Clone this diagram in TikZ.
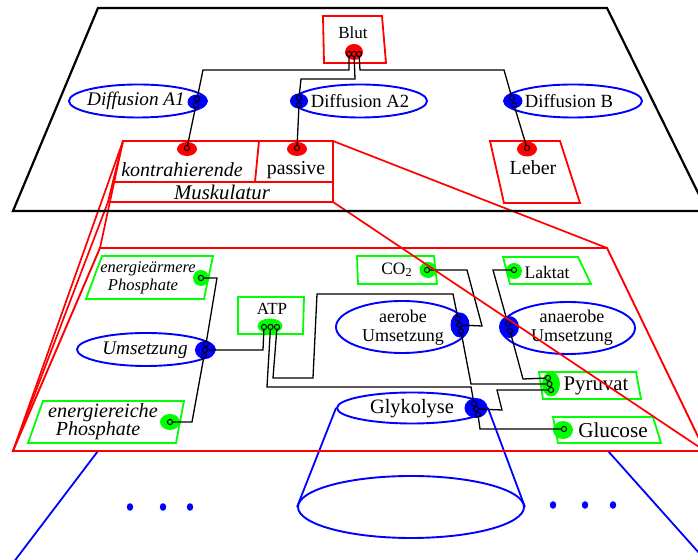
\documentclass[tikz,border=0pt]{standalone}
\usepackage{fontspec}
\setmainfont{Liberation Serif}
\usetikzlibrary{shapes.geometric}
\begin{document}
\begin{tikzpicture}[x=0.5pt,y=-0.5pt,
 rbox/.style={draw=red,line width=0.9pt},
 gbox/.style={draw=green,line width=0.9pt},
 bell/.style={ellipse,draw=blue,line width=0.95pt,inner sep=0pt},
 bline/.style={draw=blue,line width=0.9pt},
 blob/.style={ellipse,fill=#1,draw=none,inner sep=0pt},
 port/.style={circle,draw=black,fill=#1,line width=0.5pt,inner sep=0pt,minimum size=2.6pt},
 wire/.style={draw=black,line width=0.65pt},
 txt/.style={inner sep=0pt,align=center,font=\fontsize{#1}{9.3}\selectfont},
 itxt/.style={inner sep=0pt,align=center,font=\fontsize{#1}{9.3}\selectfont\itshape}
]
\useasboundingbox (0,0) rectangle (698,560);
\clip (0,0) rectangle (698,560);

% ---------- corners ----------
\coordinate (uTL) at (98,8);   \coordinate (uTR) at (607,8);
\coordinate (uBR) at (707,211); \coordinate (uBL) at (13,211);
\coordinate (lTL) at (100,248); \coordinate (lTR) at (607,248);
\coordinate (lBR) at (705,451); \coordinate (lBL) at (13,451);
\coordinate (mTL) at (123,141); \coordinate (mTR) at (333,141);
\coordinate (mBR) at (333,202); \coordinate (mBL) at (108,202);

% ================= upper plane =================
% Blut
\draw[rbox] (323,16) -- (382,16) -- (386,63) -- (324,63) -- cycle;
\node[txt=8.5] (blut) at (353,33) {Blut};
\node[blob=red,minimum width=9pt,minimum height=8pt] (bluB) at (354,52) {};
\node[port=red] (b1) at (349,54) {};
\node[port=red] (b2) at (354,54) {};
\node[port=red] (b3) at (359,54) {};

% Diffusion ellipses
\node[bell,minimum width=69pt,minimum height=16.5pt] (a1) at (138,101) {};
\node[itxt=9.6] (a1t) at (136,101) {Diffusion A1};
\node[blob=blue,minimum width=9.5pt,minimum height=7.5pt] (a1B) at (197,102) {};
\node[port=blue] (a1p1) at (197,99) {};
\node[port=blue] (a1p2) at (196,105) {};

\node[bell,minimum width=67pt,minimum height=16.5pt] (a2) at (360,101) {};
\node[txt=9.3] (a2t) at (360,101) {Diffusion A2};
\node[blob=blue,minimum width=9pt,minimum height=7.5pt] (a2B) at (299,101) {};
\node[port=blue] (a2p1) at (299,98) {};
\node[port=blue] (a2p2) at (299,105) {};

\node[bell,minimum width=69pt,minimum height=16.5pt] (db) at (573,101) {};
\node[txt=9.3] (dbt) at (569,101) {Diffusion B};
\node[blob=blue,minimum width=9.5pt,minimum height=7.5pt] (bB) at (513,101) {};
\node[port=blue] (bp1) at (512,98) {};
\node[port=blue] (bp2) at (514,105) {};

% Muskulatur
\draw[rbox] (mTL) -- (mTR) -- (mBR) -- (mBL) -- cycle;
\draw[rbox] (113,182) -- (333,182);
\draw[rbox] (259,141) -- (255,182);
\node[itxt=10] (kon) at (182,170) {kontrahierende};
\node[txt=9.9] (pas) at (296,170) {passive};
\node[itxt=10.4] (mus) at (222,192) {Muskulatur};
\node[blob=red,minimum width=10pt,minimum height=7pt] (kB) at (187,149) {};
\node[port=red] (kp) at (187,148) {};
\node[blob=red,minimum width=10pt,minimum height=7pt] (pB) at (297,149) {};
\node[port=red] (pp) at (297,148) {};

% Leber
\draw[rbox] (490,141) -- (560,141) -- (580,203) -- (504,203) -- cycle;
\node[txt=10] (leb) at (533,168) {Leber};
\node[blob=red,minimum width=10pt,minimum height=7.5pt] (lB) at (527,149) {};
\node[port=red] (lp) at (527,148) {};

% upper wires
\draw[wire] (b1) -- (349,70) -- (203,70) -- (a1p1);
\draw[wire] (b2) -- (355,79) -- (301,79) -- (a2p1);
\draw[wire] (b3) -- (360,70) -- (504,70) -- (bp1);
\draw[wire] (a1p2) -- (kp);
\draw[wire] (a2p2) -- (pp);
\draw[wire] (bp2) -- (lp);

% ================= lower plane =================
% energiearmere Phosphate
\draw[gbox] (102,256) -- (213,256) -- (204,299) -- (86,299) -- cycle;
\node[itxt=8.2] (eat1) at (148,269) {energieärmere};
\node[itxt=8.3] (eat2) at (143,287) {Phosphate};
\node[blob=green,minimum width=8pt,minimum height=8pt] (eaB) at (201,278) {};
\node[port=green] (eap) at (201,278) {};

% Umsetzung
\node[bell,minimum width=69pt,minimum height=16.5pt] (ums) at (146,349.5) {};
\node[itxt=9.6] (umst) at (145,350) {Umsetzung};
\node[blob=blue,minimum width=10pt,minimum height=9pt] (uB) at (205,350) {};
\node[port=blue] (up1) at (206,344) {};
\node[port=blue] (up2) at (205,350) {};
\node[port=blue] (up3) at (204,356) {};

% energiereiche Phosphate
\draw[gbox] (43,401) -- (184,401) -- (176,443) -- (28,443) -- cycle;
\node[itxt=10.1] (ert1) at (103,413) {energiereiche};
\node[itxt=10] (ert2) at (98,431) {Phosphate};
\node[blob=green,minimum width=10pt,minimum height=8pt] (erB) at (170,422) {};
\node[port=green] (erp) at (170,422) {};

% ATP
\draw[gbox] (238,297) -- (304,297) -- (303,334) -- (238,334) -- cycle;
\node[txt=8.5] (atpt) at (272,309) {ATP};
\node[blob=green,minimum width=12.5pt,minimum height=7.5pt] (atpB) at (270,326) {};
\node[port=green] (atp1) at (264,327) {};
\node[port=green] (atp2) at (270.5,327) {};
\node[port=green] (atp3) at (277,327) {};

% CO2
\draw[gbox] (357,256) -- (434,256) -- (437,284) -- (358,284) -- cycle;
\node[txt=8.7] (co2t) at (397,270) {CO\textsubscript{2}};
\node[blob=green,minimum width=8.5pt,minimum height=8pt] (co2B) at (428,270) {};
\node[port=green] (co2p) at (427,270) {};

% aerobe Umsetzung
\node[bell,minimum width=66pt,minimum height=26pt] (aer) at (402,327) {};
\node[txt=9] (aert) at (403,328) {aerobe\\Umsetzung};
\node[blob=blue,minimum width=9.5pt,minimum height=12.5pt] (aeB) at (460,325) {};
\node[port=blue] (ap1) at (458,318.5) {};
\node[port=blue] (ap2) at (459.5,325) {};
\node[port=blue] (ap3) at (461,331.5) {};

% anaerobe Umsetzung
\node[bell,minimum width=67pt,minimum height=26pt] (ana) at (568,328) {};
\node[txt=9] (anat) at (572,328) {anaerobe\\Umsetzung};
\node[blob=blue,minimum width=10pt,minimum height=11pt] (anB) at (509,327) {};
\node[port=blue] (anp1) at (508,324) {};
\node[port=blue] (anp2) at (510,331) {};

% Laktat
\draw[gbox] (503,257) -- (578,257) -- (591,284) -- (510,284) -- cycle;
\node[txt=8.8] (lakt) at (547,272) {Laktat};
\node[blob=green,minimum width=8pt,minimum height=8pt] (lakB) at (514,271) {};
\node[port=green] (lakp) at (514,270) {};

% Pyruvat
\draw[gbox] (539,372) -- (636,372) -- (641,399) -- (543,399) -- cycle;
\node[txt=10.4] (pyt) at (596,386) {Pyruvat};
\node[blob=green,minimum width=9pt,minimum height=12.5pt] (pyB) at (551,384) {};
\node[port=green] (pyp1) at (548,378) {};
\node[port=green] (pyp2) at (549.5,384) {};
\node[port=green] (pyp3) at (551,390) {};

% Glucose
\draw[gbox] (553,417) -- (653,417) -- (661,443) -- (558,443) -- cycle;
\node[txt=10.6] (glut) at (613,430) {Glucose};
\node[blob=green,minimum width=10pt,minimum height=9pt] (gluB) at (563,430) {};
\node[port=green] (glup) at (564,429) {};

% Glykolyse
\node[bell,minimum width=75pt,minimum height=15.5pt] (glyk) at (412,408) {};
\node[txt=10.2] (glykt) at (412,409) {Glykolyse};
\node[blob=blue,minimum width=11.5pt,minimum height=10pt] (glB) at (476,408) {};
\node[port=blue] (gp1) at (474,403.5) {};
\node[port=blue] (gp2) at (476,409) {};
\node[port=blue] (gp3) at (478,414.5) {};

% lower wires
\draw[wire] (eap) -- (217,278) -- (up1);
\draw[wire] (up3) -- (192,422) -- (erp);
\draw[wire] (up2) -- (263,350) -- (atp1);
\draw[wire] (atp2) -- (267,387) -- (471,387) -- (gp1);
\draw[wire] (atp3) -- (273,378) -- (313,378) -- (317,294) -- (453,294) -- (ap1);
\draw[wire] (co2p) -- (467,270) -- (482,326) -- (ap2);
\draw[wire] (ap3) -- (471,384) -- (pyp2);
\draw[wire] (lakp) -- (493,270) -- (anp1);
\draw[wire] (anp2) -- (523,379) -- (pyp1);
\draw[wire] (gp2) -- (502,410) -- (497,390) -- (pyp3);
\draw[wire] (gp3) -- (480,429) -- (glup);

% ================= cylinder and lower continuation =================
\node[bell,minimum width=113pt,minimum height=31pt] (cyl) at (411,507) {};
\draw[bline] (glyk.west) -- (cyl.west);
\draw[bline] (glyk.east) -- (cyl.east);
\draw[bline] (98,451) -- (13,563);
\draw[bline] (608,451) -- (708,563);
\foreach \x in {130,163,190} \fill[blue] (\x,507) ellipse [x radius=1.6pt, y radius=1.9pt];
\foreach \x in {553,585,613} \fill[blue] (\x,505) ellipse [x radius=1.6pt, y radius=1.9pt];

% lower plane border
\draw[red,line width=0.95pt] (lTL) -- (lTR) -- (lBR) -- (lBL) -- cycle;

% zoom lines
\draw[red,line width=0.85pt] (mTL) -- (lTL);
\draw[red,line width=0.85pt] (mTL) -- (lBL);
\draw[red,line width=0.85pt] (mBL) -- (lBL);
\draw[red,line width=0.85pt] (mTR) -- (lTR);
\draw[red,line width=0.85pt] (mBR) -- (lBR);

% upper plane border
\draw[line width=1.1pt] (uTL) -- (uTR) -- (uBR) -- (uBL) -- cycle;
\end{tikzpicture}
\end{document}
